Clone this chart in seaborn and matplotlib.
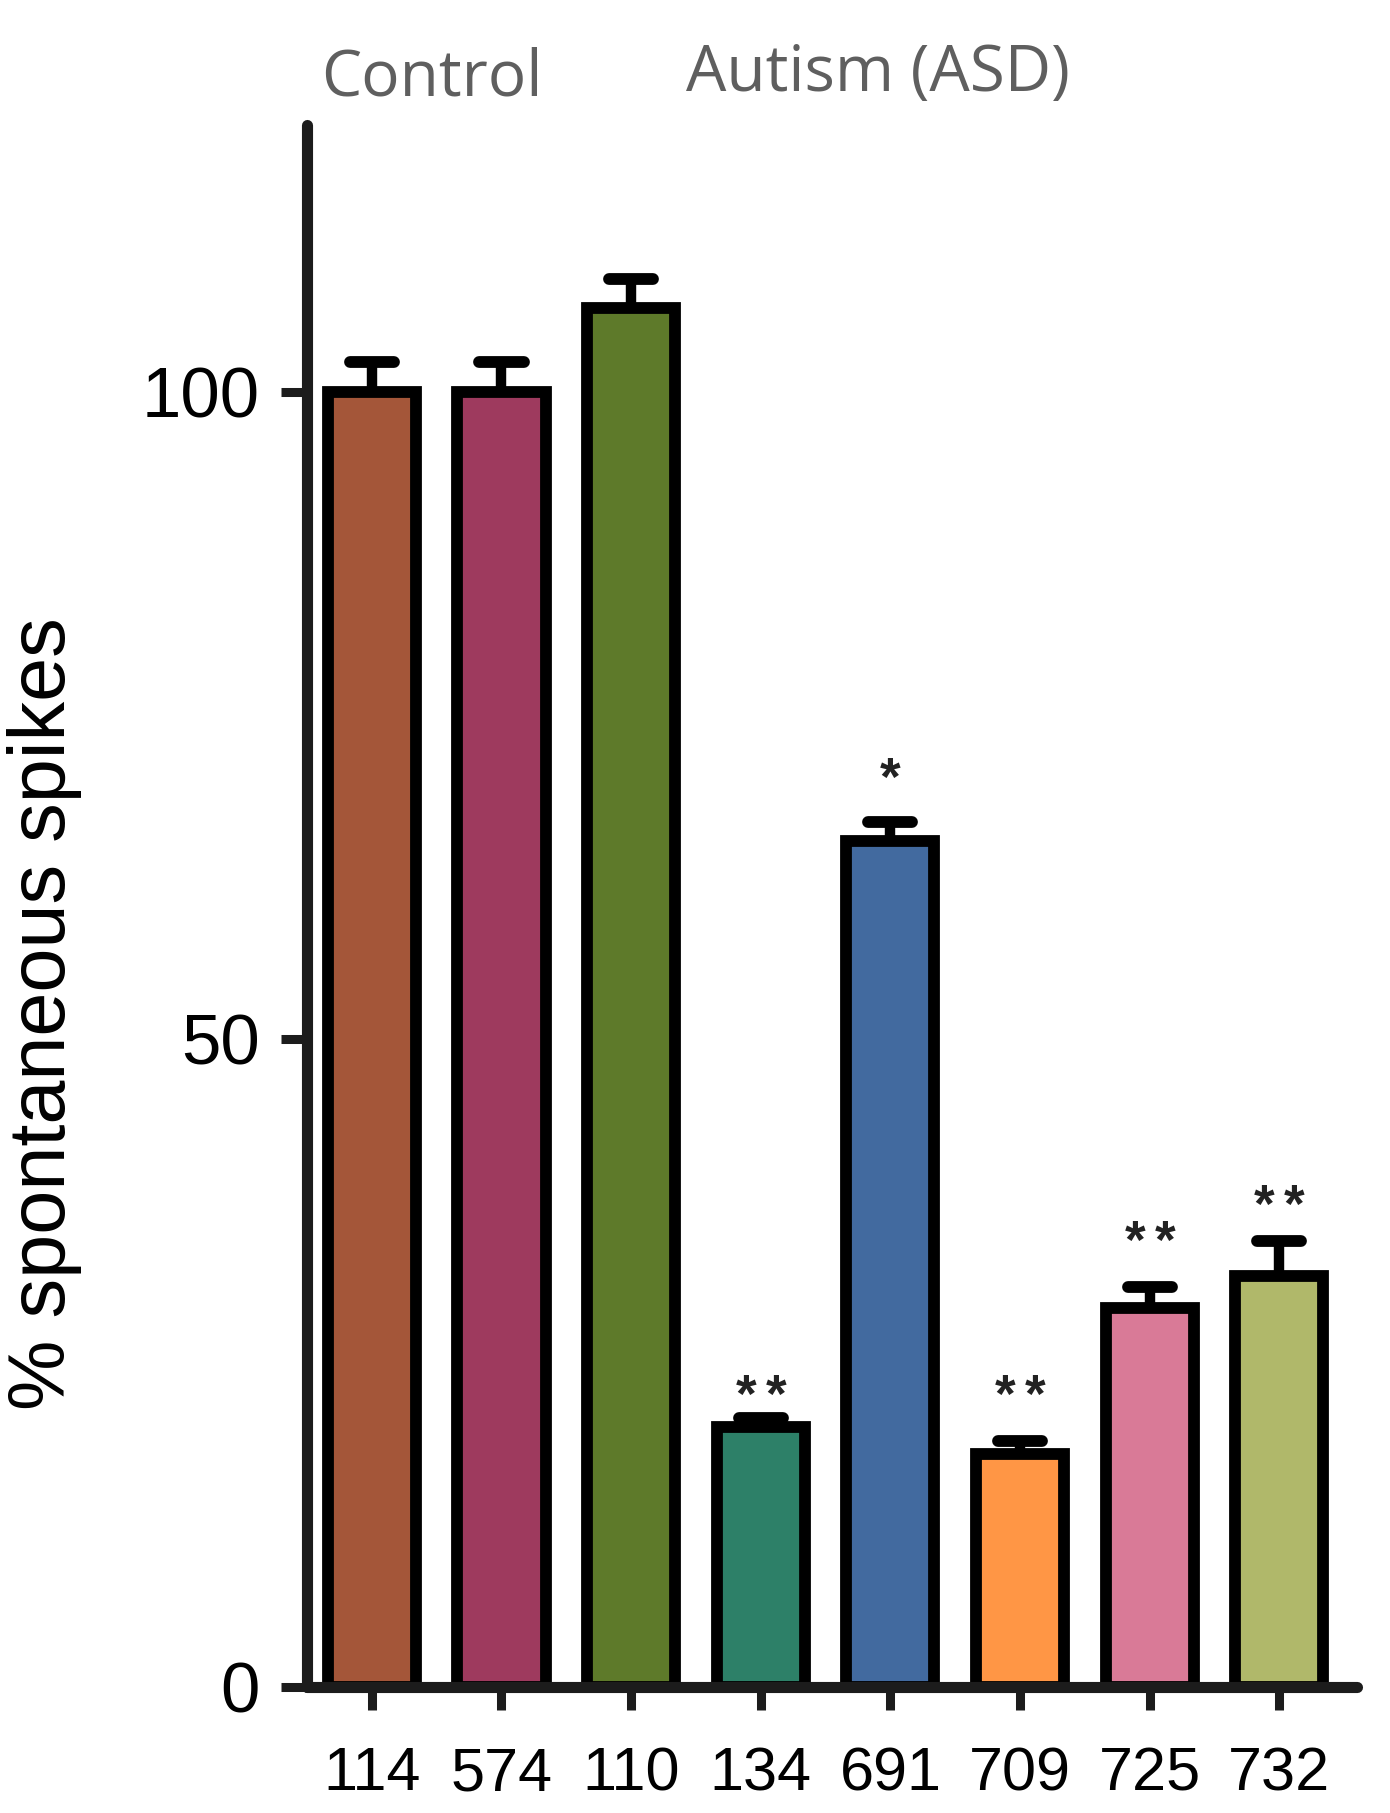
import numpy as np
import pandas as pd
import matplotlib.pyplot as plt
import seaborn as sns

# Values (% of control)
lines = ['114', '574', '110', '134', '691', '709', '725', '732']
spikes = [100.0, 100.0, 106.5, 20.1, 65.3, 18.0, 29.3, 31.7]
sem = [2.3, 2.3, 2.2, 0.7, 1.5, 1.0, 1.6, 2.7]
colors = ['#A45639', '#9E3A5E', '#5E7A2A', '#2D8068',
          '#426A9F', '#FF9645', '#D97A97', '#B0B86A']
n_stars = [0, 0, 0, 2, 1, 2, 2, 2]
sig_y = [np.nan, np.nan, np.nan, 21.2, 68.9, 21.2, 33.1, 35.9]
group_names = ['Control', 'Autism (ASD)']

df = pd.DataFrame({'line': lines, 'spikes': spikes, 'sem': sem})

sns.set_style('ticks')
plt.rcParams['font.family'] = ['Liberation Sans', 'DejaVu Sans']

fig = plt.figure(figsize=(13.9, 18.13), dpi=100)
ax = fig.add_axes([0.2209, 0.0695, 0.7554, 0.8615])

sns.barplot(data=df, x='line', y='spikes', hue='line', palette=colors,
            legend=False, width=0.68, edgecolor='black', linewidth=8.5,
            saturation=1, errorbar=None, ax=ax)

# upward-only SEM bars with round caps
x = np.arange(len(lines))
top = df['spikes'] + df['sem']
ax.vlines(x, df['spikes'], top, colors='black', linewidth=7.5, zorder=3)
caps = ax.hlines(top, x - 0.17, x + 0.17, colors='black', linewidth=8.5, zorder=3)
caps.set_capstyle('round')

# significance stars, spaced a little apart
for xi, n, yi in zip(x, n_stars, sig_y):
    if n == 0:
        continue
    offsets = [0] if n == 1 else [-10.8, 10.8]
    for dx in offsets:
        ax.annotate('*', (xi, yi), xytext=(dx, 0), textcoords='offset points',
                    ha='center', va='baseline', fontsize=38, fontweight='bold',
                    color='#222222')

ax.set_xlim(-0.5, 7.6)
ax.set_ylim(0, 120.6)
ax.set_yticks([0, 50, 100])

for side in ['top', 'right']:
    ax.spines[side].set_visible(False)
for side in ['left', 'bottom']:
    ax.spines[side].set_linewidth(8)
    ax.spines[side].set_color('#1c1c1c')
    ax.spines[side].set_capstyle('round')

ax.tick_params(axis='x', length=16.5, width=6.5, color='#1c1c1c', pad=26,
               labelsize=44, labelcolor='black')
ax.tick_params(axis='y', length=19, width=6.5, color='#1c1c1c', pad=15,
               labelsize=51, labelcolor='black')

ax.set_xlabel('')
ax.set_ylabel('% spontaneous spikes', fontsize=57, color='black')
ax.yaxis.set_label_coords(-0.2143, 0.431)

fig.text(432 / 1390, 1 - 95 / 1813, group_names[0], ha='center', va='baseline',
         fontsize=46, color='#5f5f5f', family='Open Sans')
fig.text(878 / 1390, 1 - 91 / 1813, group_names[1], ha='center', va='baseline',
         fontsize=46, color='#5f5f5f', family='Open Sans')

fig.savefig('out.png', dpi=100)
